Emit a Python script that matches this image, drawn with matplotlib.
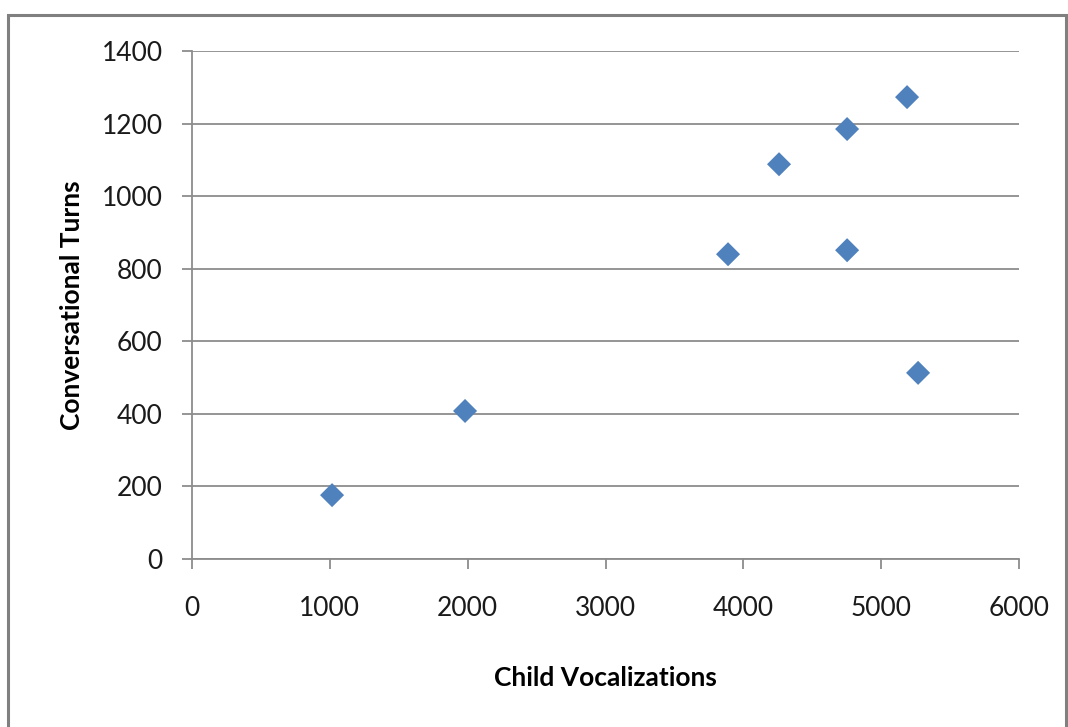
import matplotlib
matplotlib.use("Agg")
import matplotlib.pyplot as plt
from matplotlib.patches import Rectangle

# child vocalizations vs conversational turns
vocalizations = [1016, 1981, 3889, 4259, 4753, 4753, 5188, 5268]
turns = [176, 408, 840, 1088, 1185, 851, 1273, 513]

x_ticks = [0, 1000, 2000, 3000, 4000, 5000, 6000]
y_ticks = [0, 200, 400, 600, 800, 1000, 1200, 1400]

plt.rcParams['font.family'] = ['Lato', 'DejaVu Sans']

fig = plt.figure(figsize=(10.68, 7.27), dpi=100)
ax = fig.add_axes([0.1798, 0.2311, 0.7743, 0.6987])

grid_col = '#8c8c8c'
for y in y_ticks:
    ax.axhline(y, color=grid_col, lw=1.3, zorder=1)

ax.scatter(vocalizations, turns, marker='D', s=150, color='#4F81BD',
           edgecolors='none', zorder=3)

ax.set_xlim(0, 6000)
ax.set_ylim(0, 1400)
ax.set_xticks(x_ticks)
ax.set_yticks(y_ticks)
ax.tick_params(axis='both', direction='out', length=7, width=1.3,
               color=grid_col, labelsize=19, labelcolor='#1a1a1a')
ax.tick_params(axis='x', pad=20)
ax.tick_params(axis='y', pad=14)

for side in ['top', 'right']:
    ax.spines[side].set_visible(False)
ax.spines['left'].set_color(grid_col)
ax.spines['left'].set_linewidth(1.3)
ax.spines['bottom'].set_color(grid_col)
ax.spines['bottom'].set_linewidth(1.3)

ax.set_xlabel('Child Vocalizations', fontsize=19, fontweight='bold', labelpad=32)
ax.set_ylabel('Conversational Turns', fontsize=19, fontweight='bold', labelpad=13)

# outer chart border
fig.patches.append(Rectangle((8 / 1068, -0.05), 1058 / 1068, 0.05 + 712 / 727,
                             transform=fig.transFigure, fill=False,
                             edgecolor='#808080', lw=2.2))

fig.savefig('out.png', dpi=100)
